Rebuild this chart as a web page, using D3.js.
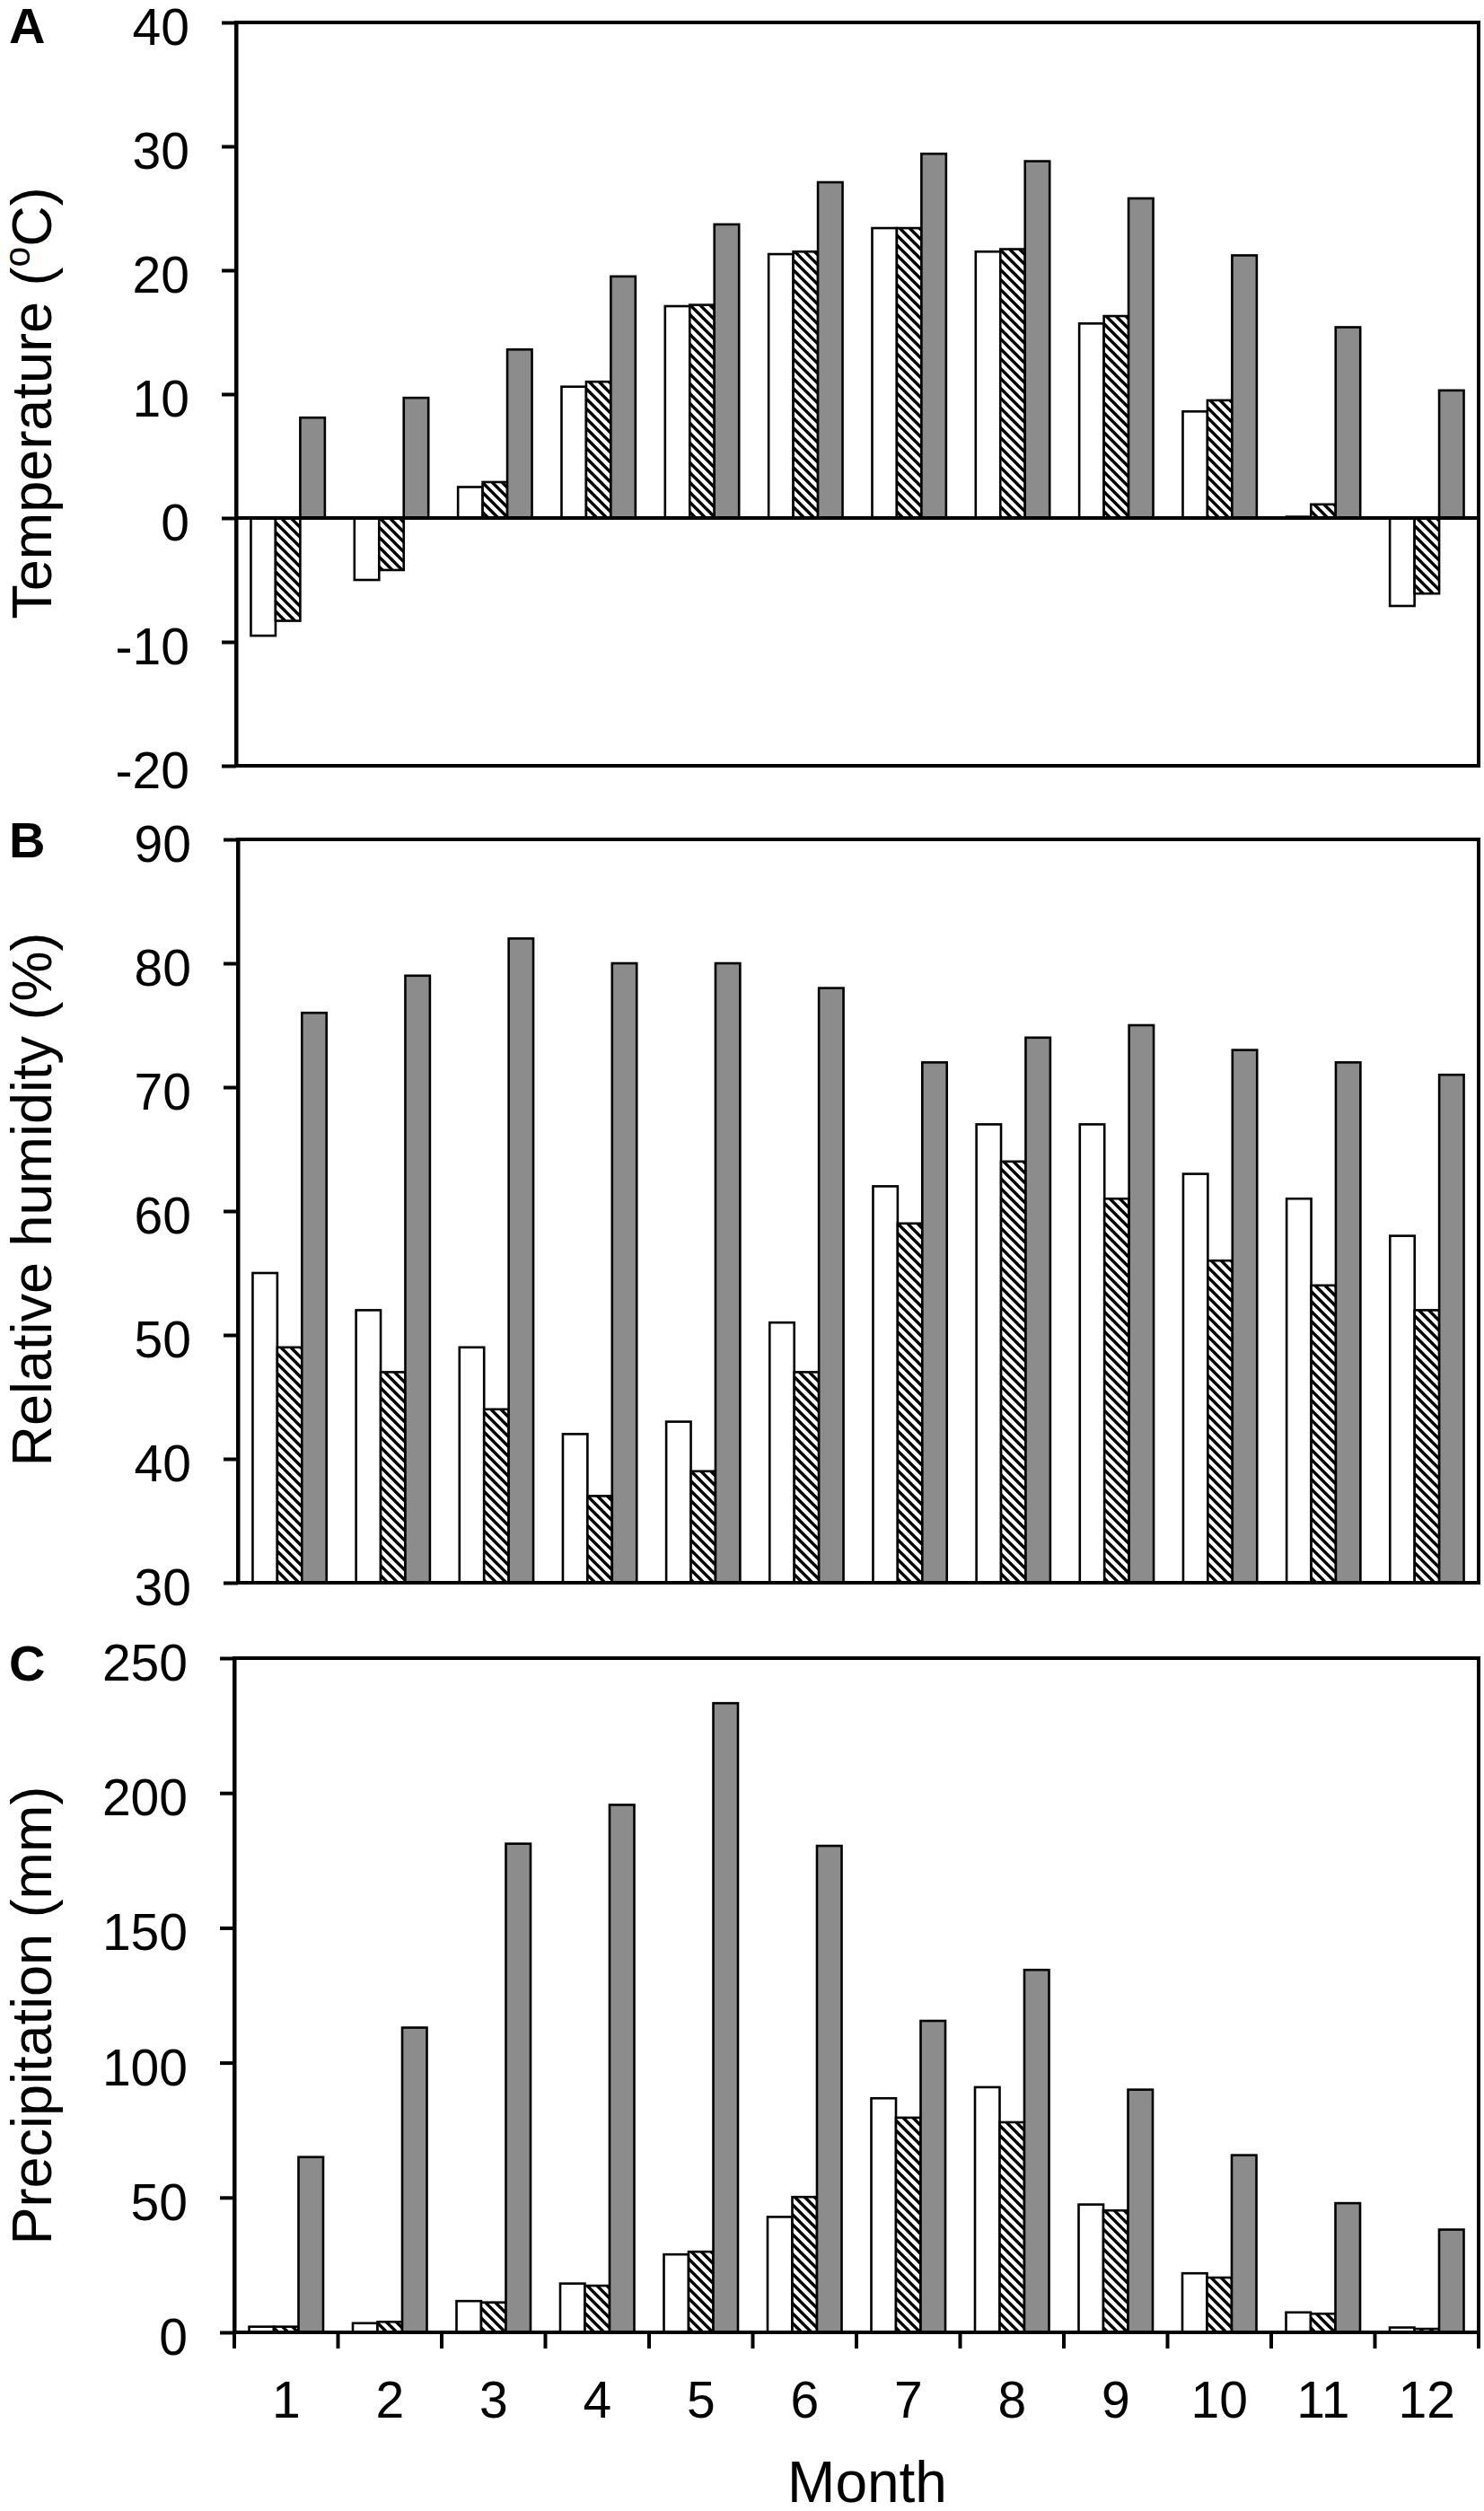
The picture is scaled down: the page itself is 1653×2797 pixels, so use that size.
<!DOCTYPE html>
<html>
<head>
<meta charset="utf-8">
<script src="https://cdn.jsdelivr.net/npm/d3@7"></script>
<style>
  body { margin: 0; background: #fff; }
  text { font-family: "Liberation Sans", Arial, sans-serif; fill: #000; }
</style>
</head>
<body>
<div id="chart"></div>
<script>
//////////DATA//////////
const months = ["1", "2", "3", "4", "5", "6", "7", "8", "9", "10", "11", "12"];
const seriesKeys = ["white", "hatched", "gray"];

const tempWhite = [-9.5, -5.0, 2.5, 10.6, 17.1, 21.3, 23.4, 21.5, 15.7, 8.6, 0.1, -7.1];
const tempHatched = [-8.3, -4.2, 2.9, 11.0, 17.2, 21.5, 23.4, 21.7, 16.3, 9.5, 1.1, -6.1];
const tempGray = [8.1, 9.7, 13.6, 19.5, 23.7, 27.1, 29.4, 28.8, 25.8, 21.2, 15.4, 10.3];
const tempTicks = [-20, -10, 0, 10, 20, 30, 40];

const humWhite = [55, 52, 49, 42, 43, 51, 62, 67, 67, 63, 61, 58];
const humHatched = [49, 47, 44, 37, 39, 47, 59, 64, 61, 56, 54, 52];
const humGray = [76, 79, 82, 80, 80, 78, 72, 74, 75, 73, 72, 71];
const humTicks = [30, 40, 50, 60, 70, 80, 90];

const precWhite = [2.1, 3.4, 11.6, 18.1, 28.9, 42.8, 86.8, 90.9, 47.4, 21.9, 7.4, 1.8];
const precHatched = [2.1, 3.9, 11.1, 17.3, 29.9, 50.2, 79.6, 77.9, 45.2, 20.3, 6.9, 1.3];
const precGray = [65.0, 113.0, 181.2, 195.6, 233.3, 180.4, 115.5, 134.4, 90.0, 65.7, 47.9, 38.1];
const precTicks = [0, 50, 100, 150, 200, 250];

//////////LAYOUT//////////
const svgObj = { width: 1653, height: 2797 };
const fontTick = 57;
const fontTitle = 63;
const gray = "#8c8c8c";

const panels = [
  {
    letter: "A", letterY: 48, left: 263, top: 25, bottom: 853,
    values: [tempWhite, tempHatched, tempGray], ticks: tempTicks,
    title: "Temperature", titleCenter: 449, zeroLine: true, monthAxis: false,
  },
  {
    letter: "B", letterY: 955, left: 265, top: 935, bottom: 1763,
    values: [humWhite, humHatched, humGray], ticks: humTicks,
    title: "Relative humidity (%)", titleCenter: 1336, zeroLine: false, monthAxis: false,
  },
  {
    letter: "C", letterY: 1872, left: 261, top: 1847, bottom: 2598,
    values: [precWhite, precHatched, precGray], ticks: precTicks,
    title: "Precipitation (mm)", titleCenter: 2245, zeroLine: false, monthAxis: true,
  },
];
const plotRight = 1647;

const svg = d3
  .select("#chart")
  .append("svg")
  .attr("width", svgObj.width)
  .attr("height", svgObj.height);

// hatch pattern (downward diagonal)
const hatchStep = 11;
const defs = svg.append("defs");
const pattern = defs
  .append("pattern")
  .attr("id", "hatch")
  .attr("patternUnits", "userSpaceOnUse")
  .attr("width", hatchStep)
  .attr("height", hatchStep);
pattern.append("rect").attr("width", hatchStep).attr("height", hatchStep).attr("fill", "white");
pattern
  .append("path")
  .attr(
    "d",
    `M${-hatchStep / 2},${hatchStep / 2} L${hatchStep / 2},${hatchStep * 1.5} ` +
      `M0,0 L${hatchStep},${hatchStep} ` +
      `M${hatchStep / 2},${-hatchStep / 2} L${hatchStep * 1.5},${hatchStep / 2}`
  )
  .attr("stroke", "black")
  .attr("stroke-width", 3.4);

const fills = { white: "white", hatched: "url(#hatch)", gray: gray };

panels.forEach((p) => {
  const x0 = d3.scaleBand().domain(months).range([p.left, plotRight]).padding(0);
  const x1 = d3
    .scaleBand()
    .domain(seriesKeys)
    .range([0, x0.bandwidth()])
    .paddingInner(0)
    .paddingOuter(0.6);
  const y = d3
    .scaleLinear()
    .domain(d3.extent(p.ticks))
    .range([p.bottom, p.top]);
  const base = Math.max(y.domain()[0], 0);

  const g = svg.append("g");

  // bars
  months.forEach((m, i) => {
    seriesKeys.forEach((k, s) => {
      const v = p.values[s][i];
      g.append("rect")
        .attr("x", x0(m) + x1(k))
        .attr("y", Math.min(y(v), y(base)))
        .attr("width", x1.bandwidth())
        .attr("height", Math.abs(y(v) - y(base)))
        .attr("fill", fills[k])
        .attr("stroke", "black")
        .attr("stroke-width", 2.6);
    });
  });

  // zero line
  if (p.zeroLine) {
    g.append("line")
      .attr("x1", p.left)
      .attr("x2", plotRight)
      .attr("y1", y(0))
      .attr("y2", y(0))
      .attr("stroke", "black")
      .attr("stroke-width", 4);
  }

  // frame
  g.append("rect")
    .attr("x", p.left)
    .attr("y", p.top)
    .attr("width", plotRight - p.left)
    .attr("height", p.bottom - p.top)
    .attr("fill", "none")
    .attr("stroke", "black")
    .attr("stroke-width", 4);

  // y axis (plain hyphen for negatives, as in the source)
  const yAxis = g
    .append("g")
    .attr("transform", `translate(${p.left},0)`)
    .call(
      d3
        .axisLeft(y)
        .tickValues(p.ticks)
        .tickFormat((d) => String(d))
        .tickSize(16)
        .tickSizeOuter(0)
        .tickPadding(36)
    );
  yAxis.select(".domain").attr("stroke", "black").attr("stroke-width", 4);
  yAxis.selectAll(".tick line").attr("stroke", "black").attr("stroke-width", 4);
  yAxis
    .selectAll(".tick text")
    .attr("font-size", fontTick)
    .attr("font-family", '"Liberation Sans", Arial, sans-serif')
    .attr("fill", "black")
    .attr("dy", "0.43em");

  // x axis with month labels
  if (p.monthAxis) {
    const xAxis = g
      .append("g")
      .attr("transform", `translate(0,${p.bottom})`)
      .call(d3.axisBottom(x0).tickSize(0).tickPadding(55));
    xAxis.select(".domain").remove();
    xAxis
      .selectAll(".tick text")
      .attr("font-size", fontTick)
      .attr("font-family", '"Liberation Sans", Arial, sans-serif')
      .attr("fill", "black");

    const boundaries = months.map((m) => x0(m)).concat([x0.range()[1]]);
    g.selectAll(".month-tick")
      .data(boundaries)
      .enter()
      .append("line")
      .attr("class", "month-tick")
      .attr("x1", (d) => d)
      .attr("x2", (d) => d)
      .attr("y1", p.bottom)
      .attr("y2", p.bottom + 18)
      .attr("stroke", "black")
      .attr("stroke-width", 4);

    g.append("text")
      .attr("x", 966)
      .attr("y", 2787)
      .attr("text-anchor", "middle")
      .attr("font-size", fontTitle + 1)
      .text("Month");
  }

  // panel letter
  g.append("text")
    .attr("x", 10)
    .attr("y", p.letterY)
    .attr("font-size", 56)
    .attr("font-weight", "bold")
    .text(p.letter);

  // y title
  const title = g
    .append("text")
    .attr("transform", `translate(57,${p.titleCenter}) rotate(-90)`)
    .attr("text-anchor", "middle")
    .attr("font-size", fontTitle);
  if (p.letter === "A") {
    title.append("tspan").text("Temperature (");
    title.append("tspan").attr("font-size", fontTitle * 0.65).attr("dy", -fontTitle * 0.38).text("o");
    title.append("tspan").attr("dy", fontTitle * 0.38).text("C)");
  } else {
    title.text(p.title);
  }
});
</script>
</body>
</html>
